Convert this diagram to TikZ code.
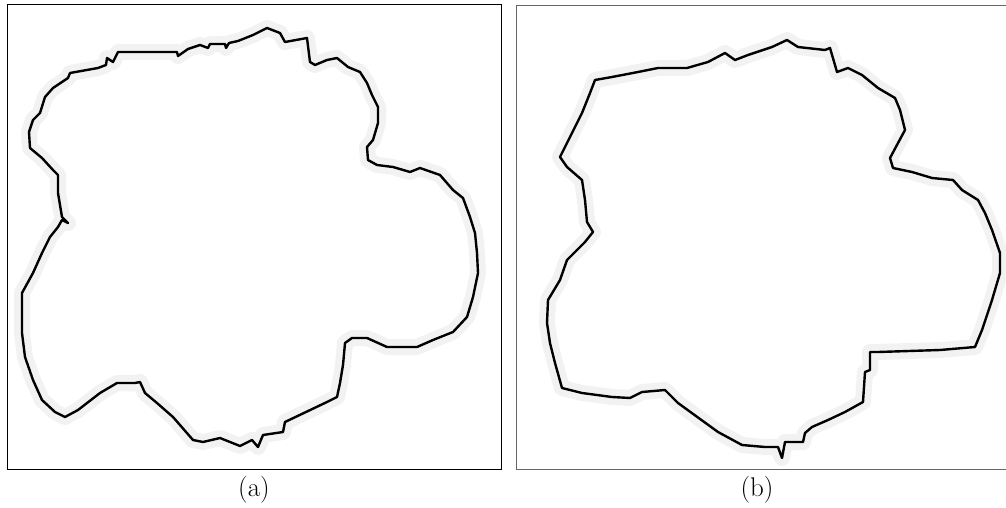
\documentclass[tikz,border=0pt]{standalone}
\usepackage{amsmath}
\usepackage{amssymb}
\usetikzlibrary{positioning}

\tikzset{
  halo/.style={line width=16pt, black!5, line join=round},
  contour/.style={line width=2.4pt, black, line join=round},
  panelframe/.style={line width=0.9pt},
  caption/.style={font=\fontsize{27}{32}\selectfont}
}

\begin{document}
\begin{tikzpicture}[x=1pt, y=-1pt]
        \useasboundingbox (0,0) rectangle (1006,508);

        % (a) 原始轮廓
        \def\contourA{(42,253) -- (50,237) -- (58,227) -- (62,220) -- (68,223) -- (62,217) -- (58,193)
          -- (58,175) -- (53,170) -- (42,158) -- (30,148) -- (29,132) -- (33,120) -- (40,113)
          -- (45,97) -- (53,88) -- (62,82) -- (68,78) -- (70,73) -- (98,68) -- (106,65)
          -- (107,58) -- (113,62) -- (117,54) -- (118,52) -- (177,52) -- (178,56) -- (188,49)
          -- (200,45) -- (208,48) -- (210,44) -- (225,44) -- (226,48) -- (229,43) -- (238,41)
          -- (253,35) -- (267,28) -- (280,33) -- (285,42) -- (307,38) -- (310,62) -- (315,65)
          -- (327,60) -- (337,58) -- (348,67) -- (360,72) -- (367,83) -- (372,95) -- (378,107)
          -- (378,123) -- (373,140) -- (367,147) -- (368,160) -- (377,165) -- (393,167)
          -- (410,172) -- (420,168) -- (440,175) -- (453,190) -- (463,198) -- (470,217)
          -- (475,233) -- (477,253) -- (478,273) -- (473,297) -- (467,317) -- (453,332)
          -- (433,340) -- (417,347) -- (387,347) -- (367,338) -- (352,338) -- (345,343)
          -- (343,365) -- (340,383) -- (337,397) -- (327,402) -- (285,422) -- (283,432)
          -- (263,435) -- (258,447) -- (252,440) -- (240,446) -- (220,438) -- (203,442)
          -- (193,440) -- (173,417) -- (157,403) -- (145,393) -- (140,382) -- (135,383)
          -- (117,383) -- (100,393) -- (78,410) -- (65,417) -- (55,412) -- (42,400)
          -- (33,380) -- (25,357) -- (22,333) -- (22,293) -- (33,273) -- cycle}
        \draw[halo] \contourA;
        \draw[contour] \contourA;
        \draw[panelframe, black] (7,4) rectangle (501,469);
        \node[caption] (capA) at (254,490) {(a)};

        % (b) 简化轮廓
        \def\contourB{(595,80) -- (612,77) -- (638,72) -- (658,68) -- (687,68) -- (708,62)
          -- (725,53) -- (735,60) -- (748,55) -- (772,47) -- (787,40) -- (798,47) -- (825,50)
          -- (830,48) -- (837,72) -- (848,68) -- (862,75) -- (878,88) -- (895,98) -- (900,110)
          -- (905,130) -- (898,143) -- (890,158) -- (893,168) -- (912,172) -- (932,178)
          -- (953,180) -- (962,190) -- (978,200) -- (985,213) -- (992,230) -- (1000,253)
          -- (1000,273) -- (992,300) -- (982,330) -- (975,347) -- (940,350) -- (878,352)
          -- (870,352) -- (870,370) -- (865,372) -- (863,402) -- (845,412) -- (828,420)
          -- (812,427) -- (805,433) -- (803,442) -- (785,442) -- (782,458) -- (778,447)
          -- (765,447) -- (742,445) -- (718,432) -- (678,403) -- (665,390) -- (642,392)
          -- (630,398) -- (612,397) -- (582,393) -- (562,388) -- (555,363) -- (550,343)
          -- (547,323) -- (548,300) -- (560,280) -- (567,260) -- (585,242) -- (593,232)
          -- (587,222) -- (585,200) -- (582,180) -- (567,167) -- (560,157) -- (570,137)
          -- (582,113) -- (590,93) -- cycle}
        \draw[halo] \contourB;
        \draw[contour] \contourB;
        \draw[panelframe, black!60] (516,5) rectangle (1008,469);
        \node[caption] (capB) at (757,490) {(b)};
    \end{tikzpicture}
\end{document}
